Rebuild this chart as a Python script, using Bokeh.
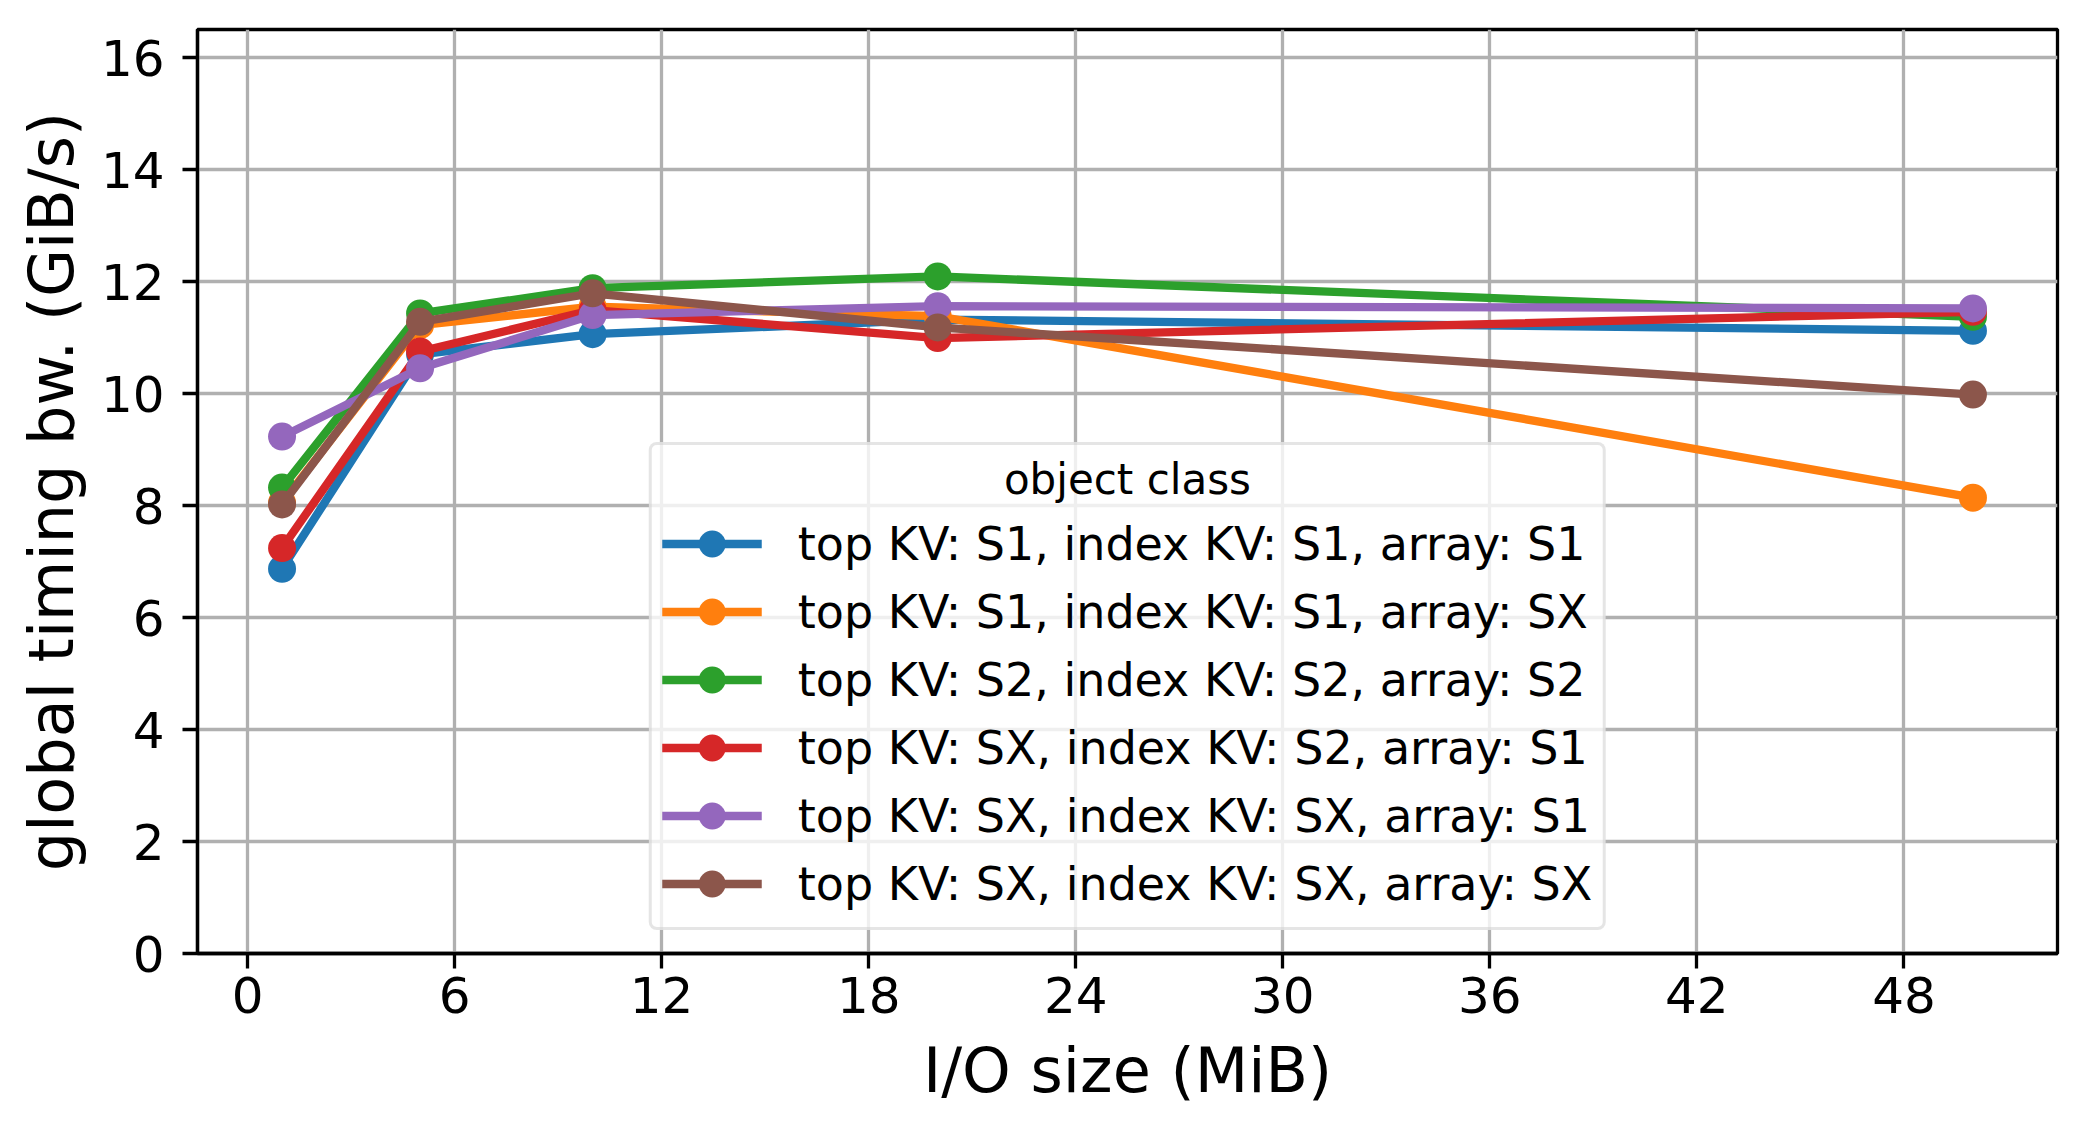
from bokeh.plotting import figure
from bokeh.models import Range1d, FixedTicker, Legend
from bokeh.embed import file_html
from bokeh.resources import INLINE

io_size = [1, 5, 10, 20, 50]
labels = [
    "top KV: S1, index KV: S1, array: S1",
    "top KV: S1, index KV: S1, array: SX",
    "top KV: S2, index KV: S2, array: S2",
    "top KV: SX, index KV: S2, array: S1",
    "top KV: SX, index KV: SX, array: S1",
    "top KV: SX, index KV: SX, array: SX",
]
bw_s1_s1_s1 = [6.87, 10.70, 11.06, 11.32, 11.12]
bw_s1_s1_sx = [8.05, 11.22, 11.55, 11.38, 8.14]
bw_s2_s2_s2 = [8.32, 11.43, 11.88, 12.09, 11.37]
bw_sx_s2_s1 = [7.24, 10.75, 11.49, 10.99, 11.46]
bw_sx_sx_s1 = [9.23, 10.45, 11.40, 11.56, 11.52]
bw_sx_sx_sx = [8.02, 11.28, 11.79, 11.18, 9.98]
series = [bw_s1_s1_s1, bw_s1_s1_sx, bw_s2_s2_s2, bw_sx_s2_s1, bw_sx_sx_s1, bw_sx_sx_sx]
colors = ["#1f77b4", "#ff7f0e", "#2ca02c", "#d62728", "#9467bd", "#8c564b"]
x_ticks = [0, 6, 12, 18, 24, 30, 36, 42, 48]
y_ticks = [0, 2, 4, 6, 8, 10, 12, 14, 16]
legend_title = "object class"

X_MIN, X_MAX = -1.45, 52.45
Y_MIN, Y_MAX = 0, 16.5
FONT = "DejaVu Sans"

p = figure(
    width=2070, height=1118,
    output_backend="svg", toolbar_location=None,
    x_range=Range1d(X_MIN, X_MAX), y_range=Range1d(Y_MIN, Y_MAX),
    min_border_left=197, min_border_right=13, min_border_top=29, min_border_bottom=165,
    background_fill_color="white", border_fill_color="white",
)

p.outline_line_color = "black"
p.outline_line_width = 3.3

for ax in (p.xaxis[0], p.yaxis[0]):
    ax.axis_line_width = 3.3
    ax.major_tick_line_width = 3.3
    ax.major_tick_out = 15
    ax.major_tick_in = 0
    ax.minor_tick_line_color = None
    ax.major_label_text_font = FONT
    ax.major_label_text_font_size = "50px"
    ax.major_label_text_color = "black"
    ax.axis_label_text_font = FONT
    ax.axis_label_text_font_size = "62px"
    ax.axis_label_text_font_style = "normal"
    ax.axis_label_text_color = "black"

p.xaxis.ticker = FixedTicker(ticks=x_ticks)
p.yaxis.ticker = FixedTicker(ticks=y_ticks)
p.xaxis.axis_label = "I/O size (MiB)"
p.yaxis.axis_label = "global timing bw. (GiB/s)"
p.xaxis.major_label_standoff = 8
p.yaxis.major_label_standoff = 18
p.xaxis.axis_label_standoff = 18
p.yaxis.axis_label_standoff = 10

p.grid.grid_line_color = "#b0b0b0"
p.grid.grid_line_width = 3.3
p.xgrid.ticker = FixedTicker(ticks=x_ticks)
p.ygrid.ticker = FixedTicker(ticks=y_ticks)

items = []
for lab, ys, c in zip(labels, series, colors):
    r1 = p.line(io_size, ys, line_color=c, line_width=8.3)
    r2 = p.scatter(io_size, ys, marker="circle", size=28, fill_color=c, line_color=c, line_width=0)
    items.append((lab, [r1, r2]))

legend = Legend(items=items, location="bottom_center")
# Bokeh left-aligns legend titles; non-breaking spaces centre it as in the original
legend.title = "\u00a0" * 25 + "\u2009" + legend_title
legend.title_text_font = FONT
legend.title_text_font_size = "42px"
legend.title_text_font_style = "normal"
legend.title_text_color = "black"
legend.title_standoff = 6
legend.label_text_font = FONT
legend.label_text_font_size = "46px"
legend.label_text_color = "black"
legend.glyph_width = 100
legend.glyph_height = 67
legend.label_standoff = 36
legend.spacing = 1
legend.padding = 10
legend.margin = 23
legend.border_line_color = "#cccccc"
legend.border_line_width = 3.3
legend.background_fill_color = "white"
legend.background_fill_alpha = 0.8
try:
    legend.border_radius = 8
except Exception:
    pass
p.add_layout(legend, "center")

open("out.html", "w").write(file_html(p, INLINE))
